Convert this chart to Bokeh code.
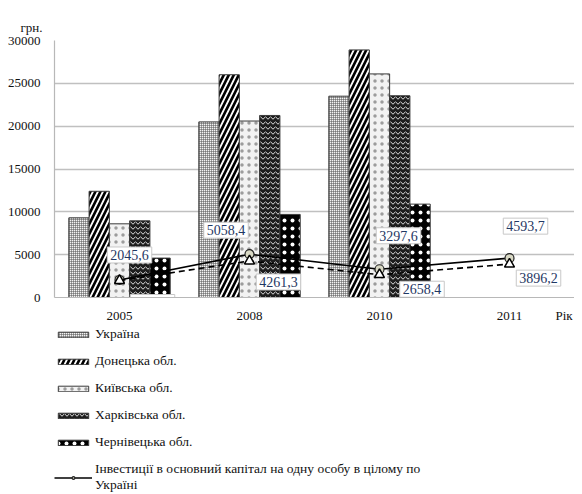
from bokeh.plotting import figure
from bokeh.models import (Range1d, ColumnDataSource, Legend, LegendItem,
                          NumeralTickFormatter, FixedTicker)
from bokeh.layouts import column
from bokeh.core.properties import value
from bokeh.transform import dodge
from bokeh.embed import file_html
from bokeh.resources import INLINE

# ---- data ----
years = ["2005", "2008", "2010", "2011"]
bar_years = ["2005", "2008", "2010"]
ukraine = [9300, 20500, 23500]
donetsk = [12400, 26000, 28900]
kyiv = [8600, 20600, 26100]
kharkiv = [8950, 21250, 23550]
chernivtsi = [4600, 9700, 10900]
invest_ua = [2045.6, 5058.4, 3297.6, 4593.7]
invest_reg = [1983.9, 4261.3, 2658.4, 3896.2]
invest_ua_text = ["2045,6", "5058,4", "3297,6", "4593,7"]
invest_reg_text = ["1983,9", "4261,3", "2658,4", "3896,2"]
y_ticks = [0, 5000, 10000, 15000, 20000, 25000, 30000]
x_title = "Рік"
y_title = "грн."
series_names = ["Україна", "Донецька обл.", "Київська обл.", "Харківська обл.", "Чернівецька обл."]
line_name = "Інвестиції в основний капітал на одну особу в цілому по\nУкраїні"

FONT = "Liberation Serif"

# category slots on a numeric axis: slot i is centred on i + 0.5
slot = {y: i + 0.5 for i, y in enumerate(years)}

p = figure(x_range=Range1d(0, len(years)), y_range=Range1d(0, 30000),
           width=574, height=325,
           min_border_left=42, min_border_right=0, min_border_top=40, min_border_bottom=28,
           output_backend="svg", toolbar_location=None)
p.outline_line_color = None
p.xgrid.grid_line_color = None
p.ygrid.grid_line_color = "#c0c0c0"
p.ygrid.grid_line_width = 1.5

p.title.text = y_title
p.title.align = "left"
p.title.offset = -34
p.title.standoff = 12
p.title.text_font = FONT
p.title.text_font_size = "13px"
p.title.text_font_style = "normal"
p.title.text_color = "#111111"

title_pos = len(years) - 0.08
p.xaxis.ticker = FixedTicker(ticks=list(slot.values()) + [title_pos])
overrides = {v: k for k, v in slot.items()}
overrides[title_pos] = x_title
p.xaxis.major_label_overrides = overrides

p.yaxis.ticker = FixedTicker(ticks=y_ticks)
p.yaxis.formatter = NumeralTickFormatter(format="0")
for ax in (p.xaxis[0], p.yaxis[0]):
    ax.major_tick_line_color = None
    ax.minor_tick_line_color = None
    ax.axis_line_color = "#b8b8b8"
    ax.axis_line_width = 1.2
    ax.major_label_text_font = FONT
    ax.major_label_text_font_size = "13px"
    ax.major_label_text_color = "#111111"
p.yaxis.major_label_standoff = 8
p.xaxis.major_label_standoff = 4

src = ColumnDataSource(dict(x=[slot[y] for y in bar_years], ua=ukraine, dn=donetsk,
                            kv=kyiv, kh=kharkiv, ch=chernivtsi))
w = 0.156
styles = [
    ("ua", dict(fill_color="#f4f4f4", hatch_pattern="cross", hatch_color="#505050", hatch_scale=2, hatch_weight=1)),
    ("dn", dict(fill_color="black", hatch_pattern="right_diagonal_line", hatch_color="white", hatch_scale=10, hatch_weight=1.8)),
    ("kv", dict(fill_color="#f2f2f2", hatch_pattern="dot", hatch_color="#333333", hatch_scale=7, hatch_weight=0.5, hatch_alpha=0.45)),
    ("kh", dict(fill_color="#1e1e1e", hatch_pattern="horizontal_wave", hatch_color="#e0e0e0", hatch_scale=5, hatch_weight=1)),
    ("ch", dict(fill_color="black", hatch_pattern="dot", hatch_color="white", hatch_scale=8, hatch_weight=2)),
]
for i, (col, st) in enumerate(styles):
    p.vbar(x=dodge("x", (i - 2) * w), top=col, width=w, source=src,
           line_color="#3a3a3a", line_width=1, **st)

lsrc = ColumnDataSource(dict(x=[slot[y] for y in years], y1=invest_ua, y2=invest_reg))
line_style1 = dict(line_color="black", line_width=1.6)
mark_style1 = dict(marker="circle", size=9, fill_color="#d8d8c4", line_color="#222222", line_width=1.2)
p.line("x", "y1", source=lsrc, **line_style1)
p.scatter("x", "y1", source=lsrc, **mark_style1)
p.line("x", "y2", source=lsrc, line_color="black", line_width=1.6, line_dash="6 4")
p.scatter("x", "y2", source=lsrc, marker="triangle", size=10, fill_color="white",
          line_color="black", line_width=1.5)

lab_src = ColumnDataSource(dict(
    x=[slot[y] for y in years] * 2,
    y=invest_ua + invest_reg,
    t=invest_ua_text + invest_reg_text,
    dx=[10, -23.5, 19, 16, 33, 29, 42.5, 29],
    dy=[-25, -24, -33.5, -32, 22, 21, 14.5, 14],
))
p.text(x="x", y="y", text="t", source=lab_src, x_offset="dx", y_offset="dy",
       text_align="center", text_baseline="middle",
       text_font=value(FONT), text_font_size="14px", text_color="#1f3864",
       background_fill_color="white", border_line_color="#c8c8c8",
       border_line_width=1, padding=3)

# ---- legend (separate panel below the chart) ----
leg = figure(width=574, height=168, x_range=Range1d(0, 1), y_range=Range1d(0, 1),
             x_axis_type=None, y_axis_type=None, min_border_left=54, min_border_right=0,
             min_border_top=1, min_border_bottom=0, output_backend="svg", toolbar_location=None)
leg.outline_line_color = None
# legend swatches only: sample marks kept outside the visible range
dummy = ColumnDataSource(dict(x=[-5], top=[-5]))
leg_renderers = []
for col, st in styles:
    leg_renderers.append(leg.vbar(x="x", top="top", width=0.1, source=dummy,
                                  line_color="#3a3a3a", line_width=1, **st))
dl = ColumnDataSource(dict(x=[-5, -4], y=[-5, -5]))
lr = leg.line("x", "y", source=dl, **line_style1)
lm = leg.scatter("x", "y", source=dl, **mark_style1)

items = [LegendItem(label=n, renderers=[r]) for n, r in zip(series_names, leg_renderers)]
items.append(LegendItem(label=line_name, renderers=[lr, lm]))
legend = Legend(items=items, location="top_left", orientation="vertical",
                glyph_width=38, glyph_height=7, label_height=16, label_standoff=3,
                spacing=11, padding=3, margin=0, border_line_color=None,
                background_fill_alpha=0, label_text_font=FONT,
                label_text_font_size="13.5px", label_text_color="#111111")
leg.add_layout(legend)

open("out.html", "w").write(file_html(column(p, leg, spacing=0), INLINE))
